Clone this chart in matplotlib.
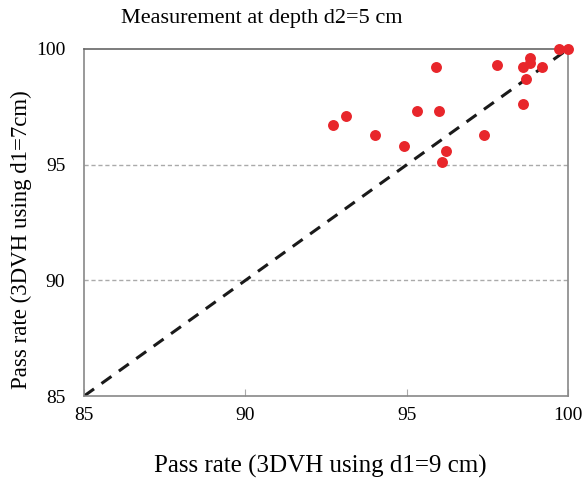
import matplotlib
matplotlib.use("Agg")
import matplotlib.pyplot as plt

plt.rcParams['font.family'] = ['Liberation Serif', 'DejaVu Serif']

x_vals = [92.7, 93.1, 94.0, 94.9, 95.3, 95.9, 96.0, 96.2, 96.1, 97.4,
          97.8, 98.6, 98.6, 98.7, 98.8, 98.8, 99.2, 99.7, 100.0]
y_vals = [96.7, 97.1, 96.3, 95.8, 97.3, 99.2, 97.3, 95.6, 95.1, 96.3,
          99.3, 99.2, 97.6, 98.7, 99.6, 99.4, 99.2, 100.0, 100.0]
ticks = [85, 90, 95, 100]
identity = [85, 100]

fig = plt.figure(figsize=(5.84, 4.8), dpi=100)
ax = fig.add_axes([0.144, 0.175, 0.829, 0.723])
ax.set_xlim(85, 100)
ax.set_ylim(85, 100)

for t in ticks[1:-1]:
    ax.axhline(t, color='#aaaaaa', lw=1, ls=(0, (3, 2)), zorder=1)

ax.plot(identity, identity, color='#1a1a1a', lw=2.2, ls=(0, (4, 3)), zorder=2)
ax.scatter(x_vals, y_vals, s=62, color='#e8262b', zorder=3, clip_on=False, linewidths=0)

for s in ['left', 'bottom', 'right']:
    ax.spines[s].set_color('#888888')
    ax.spines[s].set_linewidth(1.2)
ax.spines['top'].set_color('#666666')
ax.spines['top'].set_linewidth(1.2)
ax.spines['top'].set_linestyle((0, (2, 1)))

ax.set_xticks(ticks)
ax.set_yticks(ticks)
ax.tick_params(axis='x', direction='in', length=5, color='#aaaaaa', labelsize=14, pad=8)
ax.tick_params(axis='y', length=0, labelsize=14, pad=13.5)

fig.text(262 / 584, 1 - 18 / 480, 'Measurement at depth d2=5 cm', fontsize=16,
         ha='center', va='center')
ax.set_xlabel('Pass rate (3DVH using d1=9 cm)', fontsize=18, labelpad=22, x=0.488)
ax.set_ylabel('Pass rate (3DVH using d1=7cm)', fontsize=16.5, labelpad=3, y=0.452)

fig.savefig('out.png', dpi=100)
